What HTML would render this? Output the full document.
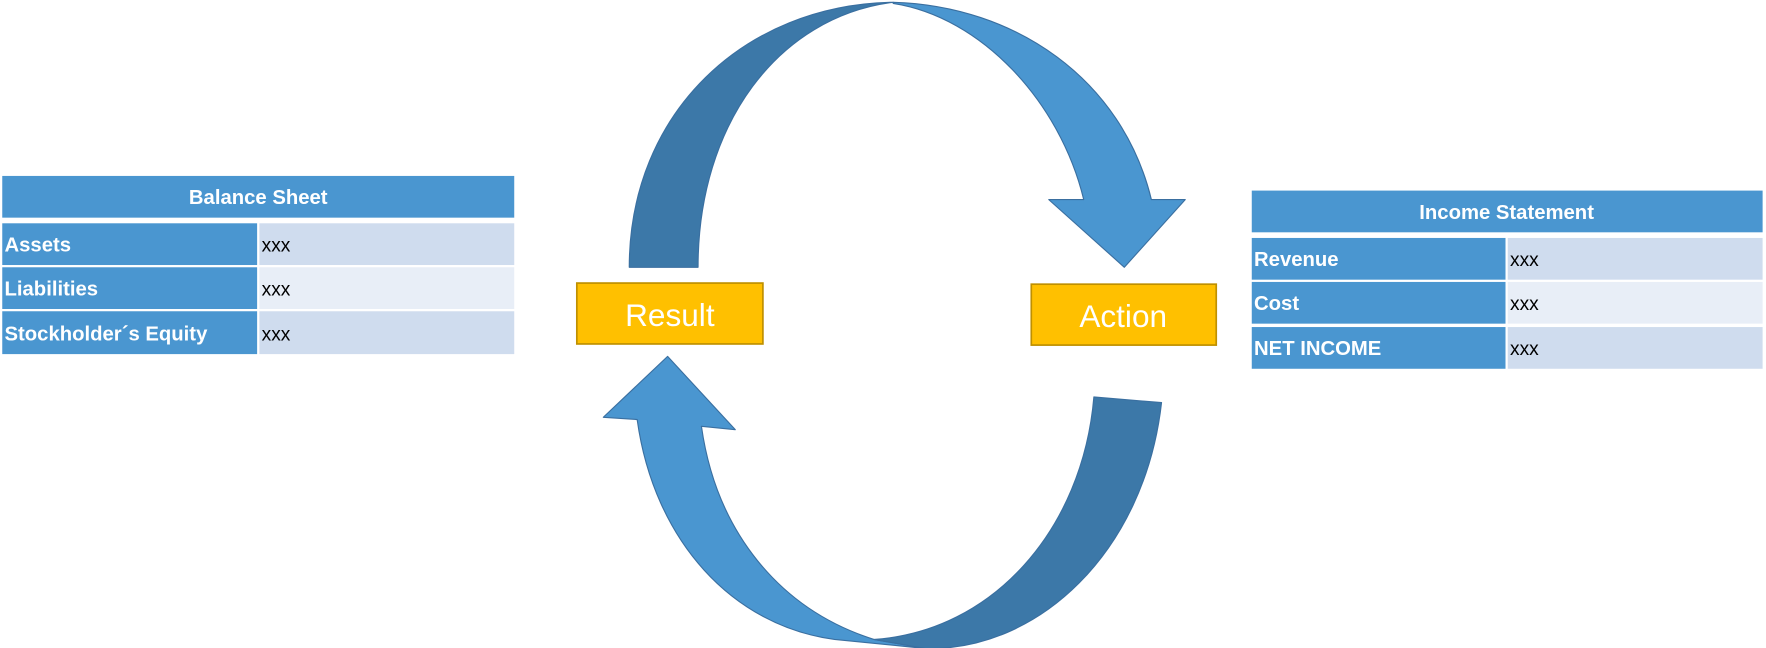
<!DOCTYPE html>
<html><head><meta charset="utf-8"><style>
html,body{margin:0;padding:0;background:#fff;width:1766px;height:648px;overflow:hidden}
svg{display:block}
text{font-family:"Liberation Sans",sans-serif}
</style></head><body>
<svg width="1766" height="648" viewBox="0 0 1566 574.6" xmlns="http://www.w3.org/2000/svg">
<!-- Balance sheet -->
<rect x="2" y="156" width="454" height="37" fill="#4a96d0"/>
<text x="229" y="181" fill="#fff" font-size="18" font-weight="bold" text-anchor="middle">Balance Sheet</text>
<rect x="2" y="198" width="226" height="37" fill="#4a96d0"/>
<rect x="230" y="198" width="226" height="37" fill="#cfdcee"/>
<rect x="2" y="237" width="226" height="37" fill="#4a96d0"/>
<rect x="230" y="237" width="226" height="37" fill="#e8eef7"/>
<rect x="2" y="276" width="226" height="38" fill="#4a96d0"/>
<rect x="230" y="276" width="226" height="38" fill="#cfdcee"/>
<g fill="#fff" font-size="18" font-weight="bold">
<text x="4" y="223">Assets</text>
<text x="4" y="262">Liabilities</text>
<text x="4" y="302">Stockholder´s Equity</text>
</g>
<g fill="#000" font-size="17">
<text x="232" y="223">xxx</text>
<text x="232" y="262">xxx</text>
<text x="232" y="302">xxx</text>
</g>
<!-- Income statement -->
<rect x="1110" y="169" width="453" height="37" fill="#4a96d0"/>
<text x="1336" y="194" fill="#fff" font-size="18" font-weight="bold" text-anchor="middle">Income Statement</text>
<rect x="1110" y="211" width="225" height="37" fill="#4a96d0"/>
<rect x="1337" y="211" width="226" height="37" fill="#cfdcee"/>
<rect x="1110" y="250" width="225" height="37" fill="#4a96d0"/>
<rect x="1337" y="250" width="226" height="37" fill="#e8eef7"/>
<rect x="1110" y="290" width="225" height="37" fill="#4a96d0"/>
<rect x="1337" y="290" width="226" height="37" fill="#cfdcee"/>
<g fill="#fff" font-size="18" font-weight="bold">
<text x="1112" y="236">Revenue</text>
<text x="1112" y="275">Cost</text>
<text x="1112" y="315">NET INCOME</text>
</g>
<g fill="#000" font-size="17">
<text x="1339" y="236">xxx</text>
<text x="1339" y="275">xxx</text>
<text x="1339" y="315">xxx</text>
</g>
<!-- arrows -->
<g stroke="#3a6fa0" stroke-width="1" stroke-linejoin="round">
<path d="M558,237 C558,100 660,4 792,2 C690,15 619,110 619,237 Z" fill="#3c78a8"/>
<path d="M792,2 C900,5 995,70 1021,177 L1051,177 L997,237 L930,177 L961,177 C940,90 870,15 792,3 Z" fill="#4a96d0"/>
<path d="M775,567 C690,540 635,470 622,378 L652,381 L592,316 L535,370 L565,372 C580,480 650,555 740,567 L820,575 Z" fill="#4a96d0"/>
<path d="M970,352 L1030,357 C1015,490 920,578 820,575 L775,567 C880,560 960,470 970,352 Z" fill="#3c78a8"/>
</g>
<!-- boxes -->
<rect x="511.5" y="251" width="165" height="54" fill="#ffc000" stroke="#bf9000" stroke-width="1.5"/>
<text x="594" y="289" fill="#fff" font-size="28" text-anchor="middle">Result</text>
<rect x="914.5" y="252" width="164" height="54" fill="#ffc000" stroke="#bf9000" stroke-width="1.5"/>
<text x="996" y="290" fill="#fff" font-size="28" text-anchor="middle">Action</text>
</svg>
</body></html>
